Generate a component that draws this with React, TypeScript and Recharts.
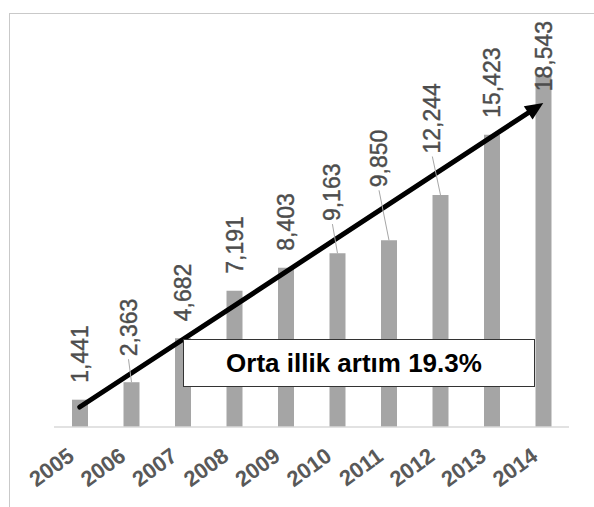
import React from "react";
import { BarChart, Bar, XAxis, YAxis, ReferenceLine } from "recharts";

const years: string[] = ["2005", "2006", "2007", "2008", "2009", "2010", "2011", "2012", "2013", "2014"];
const counts: number[] = [1441, 2363, 4682, 7191, 8403, 9163, 9850, 12244, 15423, 18543];
// trend arrow runs from the first bar to the last, at these values
const trendEnds: number[] = [1055, 17100];
const boxText = "Orta illik artım 19.3%";

const data = years.map((year, i) => ({ year, count: counts[i] }));

const FONT = "'Liberation Sans', Arial, sans-serif";
const LABEL_SIZE = 23;

const YearTick = (props: any) => {
  const { x, y, payload } = props;
  return (
    <g transform={`translate(${x - 4},${y + 24}) rotate(-36)`}>
      <text
        x={0}
        y={0}
        textAnchor="end"
        fill="#595959"
        fontSize={22}
        fontWeight="bold"
        fontFamily={FONT}
      >
        {payload.value}
      </text>
    </g>
  );
};

const ValueLabel = (props: any) => {
  const vb = props.viewBox ?? props;
  const x = Number(vb.x ?? props.x);
  const y = Number(vb.y ?? props.y);
  const w = Number(vb.width ?? props.width);
  const h = Number(vb.height ?? props.height);
  const index: number = props.index ?? 0;
  const value: number = counts[index];
  const base = y + h;
  const pxPer = h / value;
  const cx = x + w / 2;
  const arrowVal = trendEnds[0] + ((trendEnds[1] - trendEnds[0]) * index) / (counts.length - 1);
  const arrowY = base - arrowVal * pxPer;
  const text = value.toLocaleString("en-US");
  const len = (text.replace(/,/g, "").length * 0.556 + 0.278) * LABEL_SIZE;

  let bottom = Math.min(y - 17, arrowY - 17);
  if (bottom - len < 21) bottom = 21 + len;
  const lift = y - 17 - bottom;
  const shift = lift > 4 ? Math.min(10, lift / 3) : 0;
  const lx = cx - shift;

  return (
    <g>
      {lift > 4 && (
        <line x1={lx} y1={bottom + 3} x2={cx} y2={y} stroke="#a6a6a6" strokeWidth={1} />
      )}
      <text
        x={0}
        y={0}
        transform={`translate(${lx + 8},${bottom}) rotate(-90)`}
        fill="#4d4d4d"
        stroke="#4d4d4d"
        strokeWidth={0.4}
        fontSize={LABEL_SIZE}
        fontFamily={FONT}
      >
        {text}
      </text>
    </g>
  );
};

const TrendArrow = (props: any) => {
  const { x1, y1, x2, y2 } = props;
  const dx = x2 - x1;
  const dy = y2 - y1;
  const len = Math.hypot(dx, dy) || 1;
  const ux = dx / len;
  const uy = dy / len;
  const head = 18;
  const half = 8;
  const bx = x2 - ux * head;
  const by = y2 - uy * head;
  const pts = `${x2},${y2} ${bx - uy * half},${by + ux * half} ${bx + uy * half},${by - ux * half}`;
  return (
    <g>
      <line
        x1={x1}
        y1={y1}
        x2={bx + ux * 2}
        y2={by + uy * 2}
        stroke="#000"
        strokeWidth={5}
        strokeLinecap="round"
      />
      <polygon points={pts} fill="#000" />
    </g>
  );
};

export default function App() {
  return (
    <div
      style={{
        position: "fixed",
        left: 0,
        top: 0,
        width: 594,
        height: 507,
        overflow: "hidden",
        background: "#fff",
      }}
    >
      <div
        style={{
          position: "absolute",
          left: 9,
          top: 13,
          width: 700,
          height: 700,
          border: "1px solid #c9c9c9",
        }}
      />
      <div style={{ position: "absolute", left: 0, top: 0 }}>
        <BarChart
          width={594}
          height={507}
          data={data}
          margin={{ top: 48, right: 25, left: 54, bottom: 0 }}
        >
          <XAxis
            dataKey="year"
            height={80}
            interval={0}
            tickLine={false}
            axisLine={{ stroke: "#d9d9d9", strokeWidth: 1.5 }}
            tick={<YearTick />}
          />
          <YAxis hide domain={[0, 20000]} />
          <Bar
            dataKey="count"
            fill="#a5a5a5"
            barSize={16}
            isAnimationActive={false}
            label={ValueLabel}
          />
          <ReferenceLine
            segment={[
              { x: years[0], y: trendEnds[0] },
              { x: years[years.length - 1], y: trendEnds[1] },
            ]}
            ifOverflow="visible"
            shape={TrendArrow}
          />
        </BarChart>
      </div>
      <div
        style={{
          position: "absolute",
          left: 183,
          top: 339,
          width: 340,
          height: 46,
          border: "1px solid #333",
          background: "#fff",
          display: "flex",
          alignItems: "center",
          justifyContent: "center",
          fontFamily: FONT,
          fontWeight: "bold",
          fontSize: 26,
          color: "#000",
          paddingRight: 10,
          boxSizing: "content-box",
        }}
      >
        {boxText}
      </div>
    </div>
  );
}
